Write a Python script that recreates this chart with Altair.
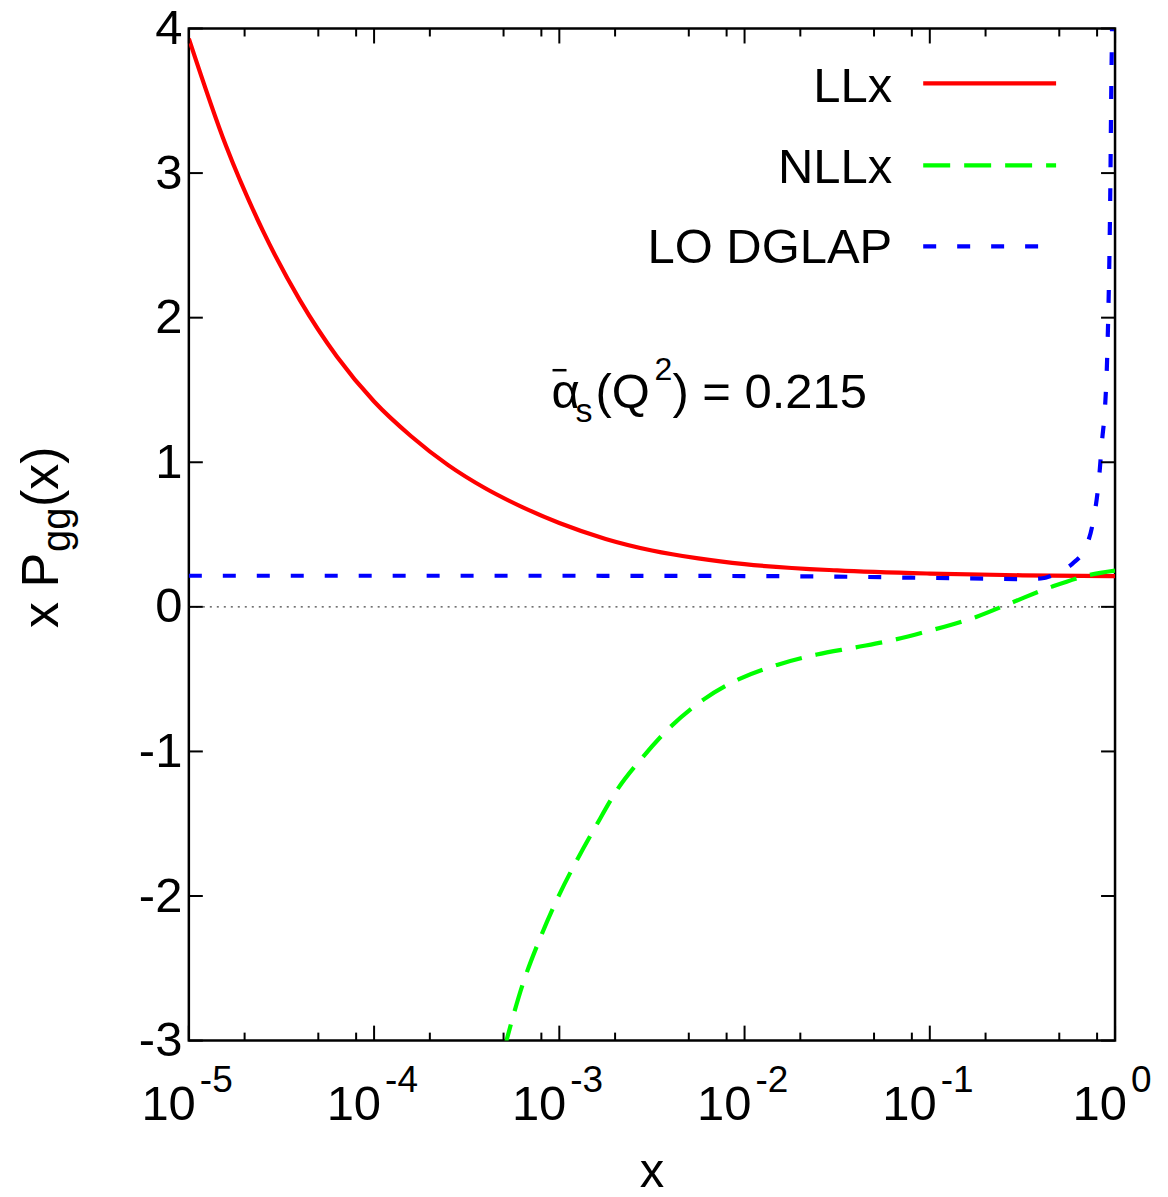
import altair as alt
import pandas as pd

# ---------------- data ----------------
# log10(x) positions and x*P_gg(x) values
llx_lx = [-5.0, -4.8, -4.6, -4.4, -4.2, -4.0, -3.8, -3.6, -3.4, -3.2, -3.0,
          -2.75, -2.5, -2.25, -2.0, -1.5, -1.0, -0.5, 0.0]
llx_y = [3.93, 3.19, 2.60, 2.12, 1.73, 1.42, 1.18, 0.98, 0.82, 0.69, 0.58,
         0.47, 0.39, 0.335, 0.295, 0.252, 0.23, 0.218, 0.212]

nllx_lx = [-3.30, -3.20, -3.10, -3.00, -2.90, -2.80, -2.69, -2.55, -2.40, -2.22,
           -2.03, -1.82, -1.61, -1.40, -1.20, -1.00, -0.75, -0.556, -0.34, -0.14, 0.0]
nllx_y = [-3.07, -2.62, -2.28, -1.99, -1.74, -1.51, -1.27, -1.04, -0.83, -0.64,
          -0.50, -0.40, -0.33, -0.28, -0.23, -0.165, -0.07, 0.03, 0.14, 0.22, 0.25]

dglap_lx = [-5.0, -4.0, -3.0, -2.0, -1.5, -1.0, -0.7, -0.52, -0.4, -0.31, -0.22,
            -0.167, -0.12, -0.087, -0.070, -0.054, -0.043, -0.036, -0.030, -0.025,
            -0.021, -0.016, -0.012]
dglap_y = [0.215, 0.215, 0.215, 0.213, 0.209, 0.200, 0.195, 0.192, 0.196, 0.235, 0.31,
           0.39, 0.58, 0.88, 1.15, 1.38, 1.70, 2.05, 2.45, 2.95,
           3.5, 4.05, 4.7]

major_x = [1e-5, 1e-4, 1e-3, 1e-2, 1e-1, 1.0]
major_exp = ["-5", "-4", "-3", "-2", "-1", "0"]
minor_mult = [2, 5, 8]
y_ticks = [-3, -2, -1, 0, 1, 2, 3, 4]

series_names = ["LLx", "NLLx", "LO DGLAP"]
series_colors = ["#ff0000", "#00ff00", "#0000ff"]
annotation = ["α", "s", "(Q", "2", ") = 0.215"]

# ---------------- layout ----------------
W, H = 927, 1013
FONT = "Liberation Sans"
FS = 49
FS_SMALL = 37

def curve(lx, ys):
    return pd.DataFrame({"x": [10 ** v for v in lx], "y": ys})

xenc = alt.X("x:Q", scale=alt.Scale(type="log", domain=[1e-5, 1.0], nice=False), axis=None)
yenc = alt.Y("y:Q", scale=alt.Scale(domain=[-3, 4], nice=False, zero=False),
             axis=alt.Axis(values=y_ticks, grid=False, ticks=False, tickSize=0, domain=False,
                           title=None, labelFont=FONT, labelFontSize=FS, labelColor="black",
                           labelPadding=7, labelFlush=False, labelOverlap=False,
                           labelExpr="'' + datum.value"))

one = pd.DataFrame({"k": [0]})

def text_at(txt, px, py, size=FS, align="left", angle=0):
    kw = dict(text=txt, font=FONT, fontSize=size, align=align, baseline="alphabetic",
              color="black")
    if angle:
        kw["angle"] = angle
    return alt.Chart(one).mark_text(**kw).encode(x=alt.value(px), y=alt.value(py))

layers = []

# zero line
layers.append(alt.Chart(pd.DataFrame({"y": [0]})).mark_rule(
    color="#444444", strokeWidth=1.2, strokeDash=[2, 5]).encode(
    y=yenc, x=alt.value(0), x2=alt.value(W)))

# curves
dashes = [None, [27, 14], [13, 21]]
for (lx, ys), col, dash in zip([(llx_lx, llx_y), (nllx_lx, nllx_y), (dglap_lx, dglap_y)],
                               series_colors, dashes):
    kw = dict(color=col, strokeWidth=4.2, clip=True, interpolate="monotone")
    if dash:
        kw["strokeDash"] = dash
    layers.append(alt.Chart(curve(lx, ys)).mark_line(**kw).encode(x=xenc, y=yenc))

# ticks (inward, all four sides)
minor_x = [m * d for d in major_x[:-1] for m in minor_mult]
maj = pd.DataFrame({"x": major_x})
mnr = pd.DataFrame({"x": minor_x})
yt = pd.DataFrame({"y": y_ticks})
tk = dict(color="black", strokeWidth=2)
layers += [
    alt.Chart(maj).mark_rule(**tk).encode(x=xenc, y=alt.value(H), y2=alt.value(H - 15)),
    alt.Chart(maj).mark_rule(**tk).encode(x=xenc, y=alt.value(0), y2=alt.value(15)),
    alt.Chart(mnr).mark_rule(**tk).encode(x=xenc, y=alt.value(H), y2=alt.value(H - 8)),
    alt.Chart(mnr).mark_rule(**tk).encode(x=xenc, y=alt.value(0), y2=alt.value(8)),
    alt.Chart(yt).mark_rule(**tk).encode(y=yenc, x=alt.value(0), x2=alt.value(14)),
    alt.Chart(yt).mark_rule(**tk).encode(y=yenc, x=alt.value(W - 14), x2=alt.value(W)),
]

# x tick labels 10^n
lab = pd.DataFrame({"x": major_x, "base": ["10"] * len(major_x), "exp": major_exp})
neg = lab[lab["exp"] != "0"]
zer = lab[lab["exp"] == "0"]
for d, dxb, dxe in [(neg, 7, 11), (zer, 12, 16)]:
    layers.append(alt.Chart(d).mark_text(font=FONT, fontSize=FS, align="right",
                                         baseline="alphabetic", dx=dxb, color="black").encode(
        x=xenc, y=alt.value(H + 79), text="base:N"))
    layers.append(alt.Chart(d).mark_text(font=FONT, fontSize=FS_SMALL, align="left",
                                         baseline="alphabetic", dx=dxe, color="black").encode(
        x=xenc, y=alt.value(H + 51), text="exp:N"))

# axis titles
FT = 52
layers.append(text_at("x", W / 2, H + 147, align="center"))
layers.append(text_at("x P", -131, 600, size=FT, angle=270))
layers.append(text_at("gg", -119, 524, size=40, angle=270))
layers.append(text_at("(x)", -131, 479, size=FT, angle=270))

# legend (drawn by hand, gnuplot style)
leg_text_x = 704
leg_base = [74, 155, 235]
leg_line_y = [55, 137, 218]
leg_line_end = [868, 868, 851]
for name, col, dash, tb, ly, le in zip(series_names, series_colors, dashes, leg_base,
                                        leg_line_y, leg_line_end):
    layers.append(text_at(name, leg_text_x, tb, align="right"))
    kw = dict(color=col, strokeWidth=4.2)
    if dash:
        kw["strokeDash"] = dash
    layers.append(alt.Chart(one).mark_rule(**kw).encode(
        x=alt.value(735), x2=alt.value(le), y=alt.value(ly)))

# annotation  \bar{alpha}_s(Q^2) = 0.215
layers.append(text_at(annotation[0], 363, 380))
layers.append(alt.Chart(one).mark_rule(color="black", strokeWidth=2.5).encode(
    x=alt.value(364), x2=alt.value(378), y=alt.value(342)))
layers.append(text_at(annotation[1], 387, 394, size=34))
layers.append(text_at(annotation[2], 407, 380))
layers.append(text_at(annotation[3], 466, 352, size=32))
layers.append(text_at(annotation[4], 484, 380))

chart = alt.layer(*layers).properties(
    width=W, height=H,
    padding={"left": 181, "top": 20, "right": 45, "bottom": 146},
    autosize=alt.AutoSizeParams(type="none"),
    background="white",
).configure_view(stroke="black", strokeWidth=2.5)

chart.save("out.html", embed_options={"renderer": "svg", "actions": False})
